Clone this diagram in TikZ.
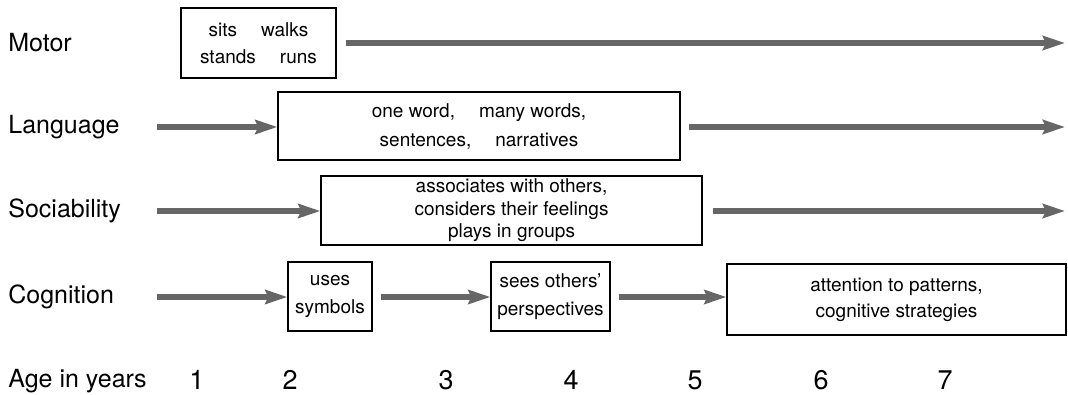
\documentclass[tikz,border=0pt]{standalone}
\usepackage{fontspec}
\setmainfont{TeX Gyre Heros}
\usetikzlibrary{arrows.meta, positioning}
\definecolor{arrowgray}{HTML}{666666}
\tikzset{>={Stealth[length=11pt,width=7pt,inset=1.5pt]}}
\tikzset{
  rowlabel/.style={anchor=west, inner sep=0pt, font=\fontsize{12.5}{15}\selectfont},
  stagebox/.style={draw, line width=0.6pt, align=center, inner sep=0pt},
  flow/.style={->, line width=2.6pt, draw=arrowgray, color=arrowgray},
}

\begin{document}
\begin{tikzpicture}[x=0.5pt,y=-0.5pt]
        \useasboundingbox (0,0) rectangle (1068,395);
        \node (motor) at (8,43)[rowlabel]{Motor};
        \node (language) at (8,127)[rowlabel]{Language};
        \node (sociability) at (8,211)[rowlabel]{Sociability};
        \node (cognition) at (8,297)[rowlabel]{Cognition};
        \node (age) at (8,381)[rowlabel]{Age in years};
        \node (motorbox) at (258.5,43)[stagebox,minimum width=77.5pt,minimum height=35pt,
              font=\fontsize{9.5}{13.5}\selectfont]{sits\hspace{12pt}walks\\stands\hspace{12pt}runs};
        \node (langbox) at (479,126)[stagebox,minimum width=201pt,minimum height=34pt,
              font=\fontsize{9.5}{14.5}\selectfont]{one word,\hspace{12pt}many words,\\sentences,\hspace{12pt}narratives};
        \node (socbox) at (511.5,210.5)[stagebox,minimum width=190.5pt,minimum height=34.5pt,
              font=\fontsize{9.5}{11.3}\selectfont]{associates with others,\\considers their feelings\\plays in groups};
        \node (symbox) at (330,296.5)[stagebox,minimum width=42pt,minimum height=34.5pt,
              font=\fontsize{9.5}{14}\selectfont]{uses\\symbols};
        \node (perbox) at (550.5,296.5)[stagebox,minimum width=59.5pt,minimum height=34.5pt,
              font=\fontsize{9.5}{14}\selectfont]{sees others'\\perspectives};
        \node (attbox) at (896.5,299.5)[stagebox,minimum width=169.5pt,minimum height=35.5pt,
              font=\fontsize{9.5}{13}\selectfont]{attention to patterns,\\cognitive strategies};
        \coordinate (motorend) at (1065,43);
        \coordinate (langstart) at (157,127);
        \coordinate (langend) at (1065,127);
        \coordinate (socstart) at (157,211);
        \coordinate (socend) at (1065,211);
        \coordinate (cogstart) at (157,297);
        \draw [flow]([xshift=4.5pt]motorbox.east)--(motorend);
        \draw [flow](langstart)--(langbox.west |- langstart);
        \draw [flow]([xshift=4pt]langbox.east |- langend)--(langend);
        \draw [flow](socstart)--(socbox.west |- socstart);
        \draw [flow]([xshift=5pt]socbox.east |- socend)--(socend);
        \draw [flow](cogstart)--(symbox.west |- cogstart);
        \draw [flow]([xshift=4pt]symbox.east |- cogstart)--(perbox.west |- cogstart);
        \draw [flow]([xshift=4pt]perbox.east |- cogstart)--(attbox.west |- cogstart);
        \foreach \yr/\x in {1/197,2/290,3/446,4/571,5/695,6/821,7/945}
          \node (yr\yr) at (\x,380)[font=\fontsize{13.5}{16}\selectfont]{\yr};
\end{tikzpicture}
\end{document}
